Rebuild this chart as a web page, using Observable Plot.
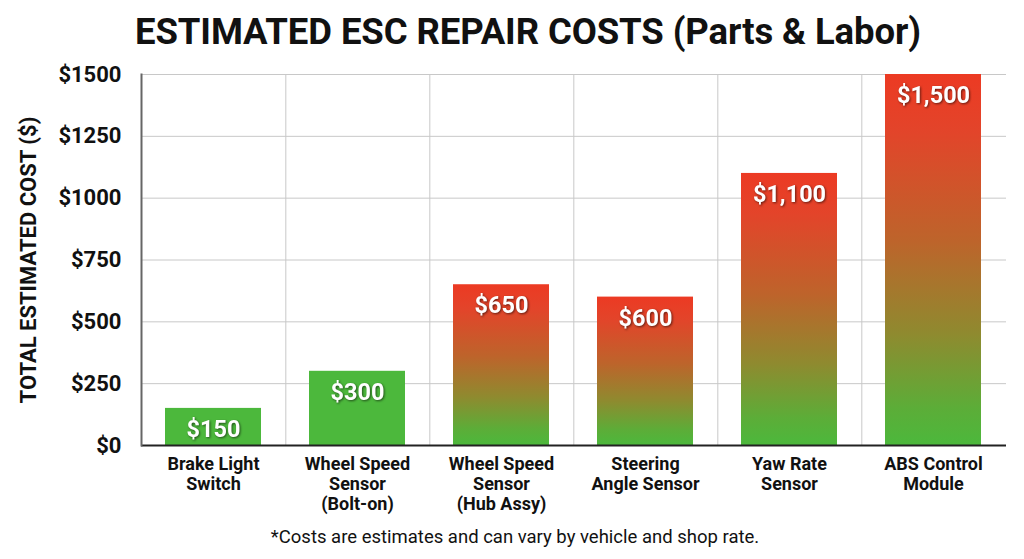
<!DOCTYPE html>
<html>
<head>
<meta charset="utf-8">
<script src="https://cdn.jsdelivr.net/npm/d3@7"></script>
<script src="https://cdn.jsdelivr.net/npm/@observablehq/plot@0.6"></script>
<style>
  html, body { margin: 0; padding: 0; background: #fff; }
  body { width: 1024px; height: 559px; overflow: hidden; font-family: Roboto, "Noto Sans", sans-serif; }
  #title { height: 62px; line-height: 64px; text-align: center; font-weight: 700; font-size: 36.5px; color: #111; padding-left: 32px; letter-spacing: -0.1px; }
  #caption { height: 39px; line-height: 34px; text-align: center; font-size: 18.5px; color: #111; padding-left: 6px; }
  .barlabel text { filter: drop-shadow(1px 1.5px 1.2px rgba(0,0,0,0.55)); }
</style>
</head>
<body>
<div id="title">ESTIMATED ESC REPAIR COSTS (Parts &amp; Labor)</div>
<div id="chart"></div>
<div id="caption">*Costs are estimates and can vary by vehicle and shop rate.</div>
<script>
const categories = [
  "Brake Light\nSwitch",
  "Wheel Speed\nSensor\n(Bolt-on)",
  "Wheel Speed\nSensor\n(Hub Assy)",
  "Steering\nAngle Sensor",
  "Yaw Rate\nSensor",
  "ABS Control\nModule"
];
const costs = [150, 300, 650, 600, 1100, 1500];
const valueLabels = ["$150", "$300", "$650", "$600", "$1,100", "$1,500"];
const yTicks = [0, 250, 500, 750, 1000, 1250, 1500];
const gradientFrom = 600; // bars at or above this get the green→red gradient

const data = categories.map((c, i) => ({category: c, cost: costs[i], label: valueLabels[i]}));

const W = 1024, H = 458, mL = 141, mR = 18, mT = 12, mB = 75;
const padIn = 0.33, padOut = 0.155;
const step = (W - mL - mR) / (categories.length - padIn + 2 * padOut);

const chart = Plot.plot({
  width: W,
  height: H,
  marginLeft: mL,
  marginRight: mR,
  marginTop: mT,
  marginBottom: mB,
  style: {fontFamily: "Roboto, sans-serif", color: "#111", background: "#fff"},
  x: {domain: categories, paddingInner: padIn, paddingOuter: padOut, label: null},
  y: {domain: [0, 1500], label: null},
  marks: [
    Plot.ruleY(yTicks, {stroke: "#c8c8c8", strokeWidth: 1}),
    Plot.ruleX(categories.slice(0, -1), {x: d => d, dx: step / 2, stroke: "#c8c8c8", strokeWidth: 1}),
    Plot.barY(data, {x: "category", y: "cost", fill: d => d.cost >= gradientFrom ? "url(#escgrad)" : "#4cb83c"}),
    Plot.text(data, {x: "category", y: "cost", text: "label", fill: "#fff", fontWeight: 700, fontSize: 23.5, dy: 21, className: "barlabel"}),
    Plot.axisY({ticks: yTicks, tickFormat: d => "$" + d, tickSize: 0, tickPadding: 20, fontSize: 22, fontWeight: 700,
      label: "TOTAL ESTIMATED COST ($)", labelAnchor: "center", labelArrow: "none", labelOffset: 121}),
    Plot.axisX({tickSize: 0, tickPadding: 10, fontSize: 18, fontWeight: 700, lineHeight: 1.11, label: null}),
    Plot.ruleY([0], {stroke: "#222", strokeWidth: 2}),
    Plot.frame({anchor: "left", stroke: "#666", strokeWidth: 2})
  ]
});

const svg = d3.select(chart);
const defs = svg.insert("defs", ":first-child");
const grad = defs.append("linearGradient").attr("id", "escgrad").attr("x1", 0).attr("y1", 0).attr("x2", 0).attr("y2", 1);
[[0, "#ec3a23"], [0.15, "#e3442a"], [0.45, "#bd642b"], [0.7, "#8f8a2f"], [0.9, "#5cad38"], [1, "#4cb83c"]]
  .forEach(([o, c]) => grad.append("stop").attr("offset", o).attr("stop-color", c));
svg.selectAll("g[aria-label='y-axis label'], g[aria-label='y-axis label'] text").style("font-size", "22px").style("font-weight", "700");

document.getElementById("chart").appendChild(chart);
</script>
</body>
</html>
